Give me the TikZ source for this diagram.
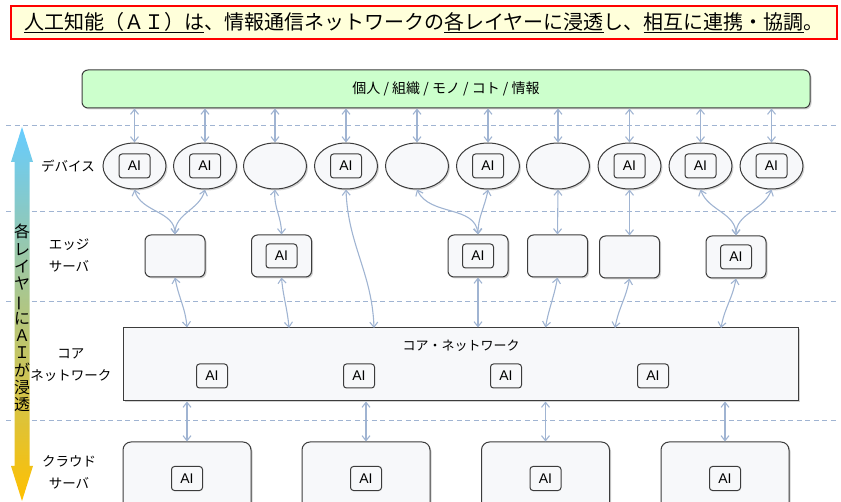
\documentclass[tikz,border=0pt]{standalone}
\usepackage{fontspec}
\usepackage{graphicx}
\newfontfamily\jp{Noto Sans CJK JP}
\newfontfamily\aifont{Liberation Sans}
\usepackage{tikz}
\usetikzlibrary{positioning,arrows.meta,shapes.geometric,shadows,calc}

\definecolor{linec}{RGB}{160,180,210}
\definecolor{boxfill}{RGB}{247,248,250}
\definecolor{boxline}{RGB}{60,60,60}
\definecolor{topfill}{RGB}{204,255,204}
\definecolor{titlefill}{RGB}{255,255,218}
\definecolor{arrtop}{RGB}{102,204,255}
\definecolor{arrmid}{RGB}{185,196,178}
\definecolor{arrbot}{RGB}{255,192,0}

\tikzset{
  shad/.style = {drop shadow={shadow xshift=1.5pt, shadow yshift=-1.5pt, opacity=0.35}},
  dev/.style = {draw=boxline, fill=boxfill, ellipse, line width=1pt, minimum width=63pt, minimum height=46pt, shad},
  edge/.style = {draw=boxline, fill=boxfill, rounded corners=6pt, line width=1pt, minimum width=60pt, minimum height=42pt, shad},
  cloud/.style = {draw=boxline, fill=boxfill, rounded corners=8pt, line width=1pt, minimum width=128pt, minimum height=88pt, shad},
  ai/.style = {draw=boxline, fill=boxfill, rounded corners=3pt, line width=1pt, minimum width=31pt, minimum height=24pt, inner sep=0pt, font=\aifont\fontsize{14}{16}\selectfont},
  layer/.style = {font=\jp\fontsize{13.5}{22}\selectfont, align=center},
  conn/.style = {<->, >={Straight Barb[length=5pt,width=8pt]}, draw=linec, line width=1.1pt},
  sep/.style = {draw=linec, line width=1pt, dash pattern=on 5pt off 3.5pt}
}

\begin{document}
\begin{tikzpicture}[x=1pt, y=-1pt]
\useasboundingbox (0,0) rectangle (841,502);

% layer separators
\foreach \y in {126,212,302,421}
  \draw[sep] (6,\y) -- (837,\y);

% title
\node[draw=red, line width=2.5pt, fill=titlefill, minimum width=826pt, minimum height=33pt, inner sep=0pt,
      font=\jp\fontsize{20}{24}\selectfont] (title) at (424,22.5)
  {\underline{人工知能（ＡＩ）は}、情報通信ネットワークの\underline{各レイヤーに浸透}し、\underline{相互に連携・協調}。};

% left arrow
\shade[top color=arrtop, middle color=arrmid, bottom color=arrbot]
  (22,127) -- (33,162) -- (29.5,162) -- (29.5,466) -- (33,466) -- (22,501)
  -- (11,466) -- (14.5,466) -- (14.5,162) -- (11,162) -- cycle;
\node[font=\jp\fontsize{16}{17.3}\selectfont, align=center, inner sep=0pt] (vtext) at (22,318)
  {各\\レ\\イ\\ヤ\\\smash{\rotatebox[origin=c]{90}{ー}}\\に\\Ａ\\Ｉ\\が\\浸\\透};

% layer names
\node[layer] (ldev) at (68,166) {デバイス};
\node[layer] (ledge) at (69,255) {エッジ\\サーバ};
\node[layer] (lcore) at (71,365) {コア\\ネットワーク};
\node[layer] (lcloud) at (69,472) {クラウド\\サーバ};

% users
\node[draw=boxline, fill=topfill, rounded corners=6pt, line width=1pt, minimum width=728pt, minimum height=38pt,
      font=\jp\fontsize{14}{16}\selectfont, shad] (top) at (446,89) {個人 / 組織 / モノ / コト / 情報};

% devices
\node[dev] (d1) at (134.5,166) {};
\node[dev] (d2) at (205,166) {};
\node[dev] (d3) at (275,166) {};
\node[dev] (d4) at (346,166) {};
\node[dev] (d5) at (417,166) {};
\node[dev] (d6) at (488,166) {};
\node[dev] (d7) at (558,166) {};
\node[dev] (d8) at (629.5,166) {};
\node[dev] (d9) at (700.5,166) {};
\node[dev] (d10) at (771.5,166) {};
\node[ai] (ad1) at (d1) {AI};
\node[ai] (ad2) at (d2) {AI};
\node[ai] (ad4) at (d4) {AI};
\node[ai] (ad6) at (d6) {AI};
\node[ai] (ad8) at (d8) {AI};
\node[ai] (ad9) at (d9) {AI};
\node[ai] (ad10) at (d10) {AI};

% edge servers
\node[edge] (e1) at (175,256) {};
\node[edge] (e2) at (281.5,256) {};
\node[edge] (e3) at (478,256) {};
\node[edge] (e4) at (557.5,256) {};
\node[edge] (e5) at (629.5,257) {};
\node[edge] (e6) at (736,257) {};
\node[ai] (ae2) at (e2) {AI};
\node[ai] (ae3) at (e3) {AI};
\node[ai] (ae6) at (e6) {AI};

% core network
\node[draw=boxline, fill=boxfill, line width=1pt, minimum width=675pt, minimum height=73pt, shad] (core) at (460.5,364.5) {};
\node[font=\jp\fontsize{13}{15}\selectfont] (corelab) at (461,346) {コア・ネットワーク};
\node[ai] (ac1) at (212,376) {AI};
\node[ai] (ac2) at (359,376) {AI};
\node[ai] (ac3) at (506,376) {AI};
\node[ai] (ac4) at (653,376) {AI};

% cloud servers
\node[cloud] (cl1) at (187,486) {};
\node[cloud] (cl2) at (366,486) {};
\node[cloud] (cl3) at (545.5,486) {};
\node[cloud] (cl4) at (725,486) {};
\node[ai] (acl1) at (187,478.5) {AI};
\node[ai] (acl2) at (366,478.5) {AI};
\node[ai] (acl3) at (545.5,478.5) {AI};
\node[ai] (acl4) at (725,478.5) {AI};

% users <-> devices
\foreach \i in {1,...,10}
  \draw[conn] (d\i.north) -- (d\i.north |- top.south);

% devices <-> edge
\draw[conn] (d1.south) to[out=-75,in=90] (e1.north);
\draw[conn] (d2.south) to[out=-105,in=90] (e1.north);
\draw[conn] (d3.south) to[out=-95,in=90] (e2.north);
\draw[conn] (d5.south) to[out=-65,in=95] (e3.north);
\draw[conn] (d6.south) to[out=-100,in=90] (e3.north);
\draw[conn] (d7.south) -- (e4.north);
\draw[conn] (d8.south) -- (e5.north);
\draw[conn] (d9.south) to[out=-70,in=90] (e6.north);
\draw[conn] (d10.south) to[out=-110,in=90] (e6.north);

% edge <-> core
\coordinate (p1) at (cl1.north |- core.north);
\coordinate (p2) at (289,328);
\coordinate (p3) at (374,328);
\coordinate (p4) at (e3.south |- core.north);
\coordinate (p5) at (cl3.north |- core.north);
\coordinate (p6) at (615,328);
\coordinate (p7) at (721,328);
\draw[conn] (e1.south) to[out=-80,in=95] (p1);
\draw[conn] (e2.south) to[out=-85,in=95] (p2);
\draw[conn] (d4.south) to[out=-88,in=92] (p3);
\draw[conn] (e3.south) -- (p4);
\draw[conn] (e4.south) to[out=-100,in=80] (p5);
\draw[conn] (e5.south) to[out=-100,in=80] (p6);
\draw[conn] (e6.south) to[out=-100,in=80] (p7);

% core <-> cloud
\draw[conn] (cl1.north |- core.south) -- (cl1.north);
\draw[conn] (cl2.north |- core.south) -- (cl2.north);
\draw[conn] (cl3.north |- core.south) -- (cl3.north);
\draw[conn] (cl4.north |- core.south) -- (cl4.north);

\end{tikzpicture}
\end{document}
